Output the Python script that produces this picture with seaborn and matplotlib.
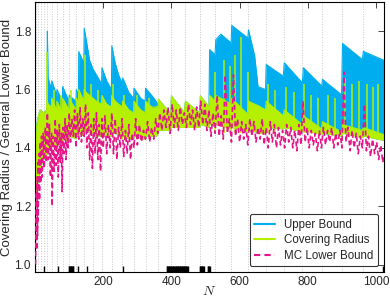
import matplotlib
matplotlib.use('Agg')

import numpy as np
import pandas as pd
import matplotlib.pyplot as plt
import seaborn as sns

# envelope knots: N, upper bound top, covering radius top / bottom
env_n = [1, 8, 15, 25, 35, 36, 38, 48, 49, 63, 64, 80, 81, 99, 100, 120, 121, 127, 128, 143,
         144, 150, 160, 170, 180, 195, 196, 210, 224, 225, 235, 245, 256, 257, 275, 289, 290, 310, 323, 324,
         342, 355, 361, 362, 398, 400, 438, 441, 483, 485, 510, 512, 528, 530, 545, 575, 577, 624, 626, 644,
         654, 676, 678, 728, 731, 784, 787, 841, 843, 899, 902, 960, 963, 1024]
ub_top = [1.45, 1.50, 1.53, 1.52, 1.53, 1.80, 1.64, 1.60, 1.63, 1.58, 1.60, 1.56, 1.61, 1.56, 1.58, 1.56, 1.60, 1.58, 1.73, 1.69,
          1.81, 1.77, 1.70, 1.67, 1.65, 1.62, 1.675, 1.63, 1.60, 1.75, 1.69, 1.65, 1.62, 1.64, 1.59, 1.57, 1.605, 1.57, 1.56, 1.605,
          1.58, 1.56, 1.545, 1.567, 1.515, 1.578, 1.52, 1.56, 1.52, 1.578, 1.54, 1.737, 1.72, 1.771, 1.79, 1.76, 1.82, 1.777, 1.805, 1.716,
          1.61, 1.60, 1.686, 1.646, 1.692, 1.623, 1.675, 1.612, 1.635, 1.582, 1.758, 1.703, 1.731, 1.70]
cr_top = [1.45, 1.50, 1.53, 1.52, 1.53, 1.56, 1.55, 1.54, 1.57, 1.53, 1.56, 1.52, 1.57, 1.53, 1.57, 1.53, 1.57, 1.55, 1.60, 1.56,
          1.60, 1.59, 1.58, 1.57, 1.56, 1.55, 1.58, 1.55, 1.54, 1.58, 1.56, 1.55, 1.54, 1.56, 1.53, 1.52, 1.56, 1.53, 1.52, 1.56,
          1.54, 1.54, 1.545, 1.567, 1.515, 1.578, 1.52, 1.56, 1.52, 1.578, 1.54, 1.58, 1.56, 1.58, 1.57, 1.55, 1.57, 1.515, 1.56, 1.55,
          1.545, 1.53, 1.56, 1.51, 1.53, 1.48, 1.51, 1.465, 1.49, 1.455, 1.48, 1.46, 1.47, 1.445]
cr_bot = [1.20, 1.28, 1.33, 1.36, 1.38, 1.40, 1.40, 1.40, 1.41, 1.40, 1.42, 1.42, 1.43, 1.42, 1.44, 1.43, 1.44, 1.44, 1.45, 1.44,
          1.46, 1.46, 1.45, 1.45, 1.44, 1.44, 1.45, 1.44, 1.44, 1.45, 1.45, 1.44, 1.43, 1.44, 1.43, 1.43, 1.44, 1.43, 1.43, 1.44,
          1.44, 1.44, 1.45, 1.46, 1.46, 1.47, 1.47, 1.47, 1.47, 1.48, 1.47, 1.48, 1.475, 1.48, 1.475, 1.465, 1.47, 1.455, 1.46, 1.455,
          1.45, 1.45, 1.47, 1.465, 1.47, 1.455, 1.46, 1.445, 1.45, 1.44, 1.45, 1.435, 1.44, 1.425]

# narrow covering radius spikes
spk_n = [36, 55, 75, 104, 146, 165, 185, 230, 262, 300, 335, 527, 554, 573, 586, 604, 625, 683,
         705, 735, 760, 790, 810, 830, 860, 880, 910, 930, 950, 975, 990, 1005]
spk_top = [1.73, 1.60, 1.58, 1.60, 1.72, 1.62, 1.60, 1.62, 1.58, 1.58, 1.57, 1.66, 1.70, 1.68, 1.72, 1.78, 1.66, 1.62,
           1.60, 1.61, 1.59, 1.62, 1.58, 1.57, 1.58, 1.57, 1.64, 1.62, 1.63, 1.62, 1.61, 1.62]

# MC lower bound
mc_n = [1, 4, 5, 6, 7, 8, 9, 11, 13, 15, 17, 19, 21, 24, 27, 30, 33, 36, 39, 42,
        45, 48, 50, 53, 56, 59, 62, 65, 68, 71, 74, 77, 79, 82, 85, 88, 91, 94, 97, 100,
        104, 108, 112, 116, 120, 124, 128, 132, 136, 140, 144, 148, 152, 156, 160, 164, 168, 172, 176, 180,
        184, 188, 192, 196, 200, 205, 210, 215, 220, 225, 230, 235, 240, 245, 250, 255, 260, 265, 270, 275,
        280, 285, 290, 295, 300, 306, 312, 318, 324, 330, 336, 342, 348, 354, 360, 366, 372, 378, 384, 390,
        396, 402, 408, 414, 420, 426, 432, 438, 444, 450, 456, 462, 468, 474, 480, 486, 492, 498, 504, 510,
        516, 522, 528, 534, 540, 546, 552, 558, 564, 570, 576, 582, 588, 594, 600, 606, 612, 618, 624, 630,
        636, 642, 648, 654, 660, 666, 672, 678, 684, 690, 696, 702, 708, 714, 720, 726, 732, 738, 744, 750,
        756, 762, 768, 774, 780, 786, 792, 798, 804, 810, 816, 822, 828, 834, 840, 846, 852, 858, 864, 870,
        876, 882, 888, 894, 900, 906, 912, 918, 924, 930, 936, 942, 948, 954, 960, 966, 972, 978, 984, 990,
        996, 1002, 1008, 1014, 1020, 1024]
mc_val = [1.00, 1.25, 1.05, 1.30, 1.10, 1.35, 1.15, 1.38, 1.22, 1.42, 1.28, 1.44, 1.30, 1.45, 1.33, 1.47, 1.35, 1.52, 1.36, 1.48,
          1.30, 1.45, 1.20, 1.44, 1.32, 1.50, 1.34, 1.46, 1.30, 1.48, 1.35, 1.45, 1.25, 1.47, 1.38, 1.50, 1.36, 1.48, 1.40, 1.52,
          1.42, 1.50, 1.44, 1.53, 1.40, 1.52, 1.43, 1.54, 1.42, 1.50, 1.44, 1.55, 1.40, 1.52, 1.36, 1.48, 1.33, 1.50, 1.38, 1.52,
          1.36, 1.48, 1.32, 1.50, 1.40, 1.51, 1.38, 1.48, 1.40, 1.52, 1.38, 1.50, 1.36, 1.47, 1.40, 1.50, 1.37, 1.46, 1.38, 1.48,
          1.36, 1.45, 1.40, 1.50, 1.41, 1.48, 1.42, 1.46, 1.43, 1.49, 1.42, 1.47, 1.43, 1.50, 1.45, 1.52, 1.46, 1.53, 1.47, 1.54,
          1.45, 1.55, 1.47, 1.53, 1.46, 1.54, 1.48, 1.52, 1.47, 1.55, 1.48, 1.53, 1.46, 1.54, 1.47, 1.56, 1.48, 1.55, 1.46, 1.53,
          1.44, 1.52, 1.45, 1.58, 1.44, 1.51, 1.43, 1.65, 1.45, 1.50, 1.42, 1.65, 1.44, 1.50, 1.42, 1.49, 1.43, 1.48, 1.41, 1.50,
          1.44, 1.49, 1.42, 1.47, 1.43, 1.50, 1.41, 1.47, 1.40, 1.49, 1.42, 1.48, 1.40, 1.47, 1.41, 1.46, 1.40, 1.48, 1.42, 1.47,
          1.40, 1.46, 1.39, 1.48, 1.41, 1.56, 1.42, 1.47, 1.40, 1.46, 1.41, 1.45, 1.39, 1.46, 1.40, 1.47, 1.41, 1.46, 1.42, 1.47,
          1.40, 1.45, 1.41, 1.46, 1.40, 1.66, 1.42, 1.47, 1.39, 1.46, 1.40, 1.45, 1.38, 1.44, 1.40, 1.55, 1.39, 1.44, 1.37, 1.43,
          1.38, 1.42, 1.36, 1.41, 1.35, 1.38]

# N values marked along the bottom
rug_n = [27, 67, 98, 100, 102, 104, 106, 108, 110, 112, 125, 152, 258,
         386, 388, 390, 392, 394, 396, 398, 400, 402, 404, 406, 408, 410, 412, 414, 416, 418,
         420, 422, 424, 426, 428, 430, 432, 434, 436, 438, 440, 442, 444, 446, 448,
         483, 485, 487, 489, 491, 493, 495, 506, 508, 510, 512, 1021]

blue = '#00aeef'
green = '#b4f000'
pink = '#e6168a'

sns.set_style('white')
plt.rcParams['font.family'] = ['Liberation Sans', 'DejaVu Sans']
plt.rcParams['mathtext.fontset'] = 'cm'

fig = plt.figure(figsize=(3.9, 2.99), dpi=100)
ax = fig.add_axes([0.09, 0.09, 0.895, 0.903])

# dotted grid at the perfect squares
for k in range(1, 33):
    ax.axvline(k * k, color='#c8c8c8', lw=0.7, ls=':', zorder=0)

env = pd.DataFrame({'N': env_n, 'ub': ub_top, 'top': cr_top, 'bot': cr_bot})
ax.fill_between(env['N'], env['bot'], env['ub'], color=blue, lw=0, zorder=1)
sns.lineplot(x='N', y='ub', data=env, color=blue, lw=0.8, label='Upper Bound', ax=ax, zorder=1)
ax.fill_between(env['N'], env['bot'], env['top'], color=green, lw=0, zorder=2)
ax.vlines(spk_n, 1.45, spk_top, color=green, lw=1.1, zorder=2)
sns.lineplot(x='N', y='top', data=env, color=green, lw=0.8, label='Covering Radius', ax=ax, zorder=2)

mc = pd.DataFrame({'N': mc_n, 'val': mc_val})
sns.lineplot(x='N', y='val', data=mc, color=pink, lw=1.2, linestyle='--', dashes=False,
             label='MC Lower Bound', ax=ax, zorder=3)
ax.lines[-1].set_dashes([3, 2])

sns.rugplot(x=rug_n, height=0.022, color='k', lw=0.8, ax=ax, zorder=4)

ax.set_xlim(0, 1024)
ax.set_ylim(0.974, 1.9)
ax.set_xticks([200, 400, 600, 800, 1000])
ax.set_yticks([1.0, 1.2, 1.4, 1.6, 1.8])
ax.tick_params(direction='in', top=True, right=True, length=4, width=0.6, labelsize=8.5, pad=3)
for s in ax.spines.values():
    s.set_linewidth(0.8)
    s.set_color('k')

ax.set_xlabel('$N$', fontsize=10, labelpad=-3)
ax.set_ylabel('Covering Radius / General Lower Bound', fontsize=9.5, labelpad=1)

leg = ax.legend(loc='lower right', fontsize=8.3, frameon=True, fancybox=True,
                handlelength=1.8, borderaxespad=0.5, labelspacing=0.3)
leg.get_frame().set_edgecolor('k')
leg.get_frame().set_linewidth(0.8)
for h in leg.get_lines():
    h.set_linewidth(1.5)

fig.savefig('out.png', dpi=100)
